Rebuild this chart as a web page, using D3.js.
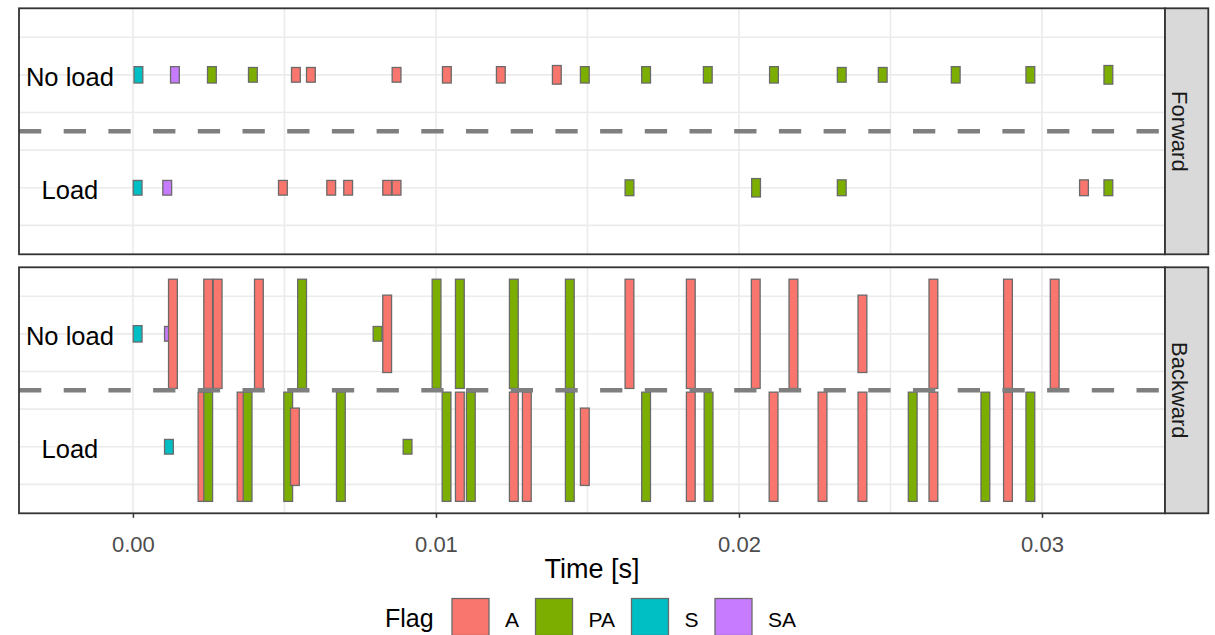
<!DOCTYPE html>
<html>
<head>
<meta charset="utf-8">
<script src="https://cdn.jsdelivr.net/npm/d3@7"></script>
<style>
  body { margin: 0; background: #fff; }
  text { font-family: "Liberation Sans", Arial, sans-serif; }
</style>
</head>
<body>
<svg id="chart"></svg>
<script>
/******************************************************
 * TCP packet timeline, faceted Forward / Backward
 * rows: No load / Load, bars coloured by TCP flag
 ******************************************************/

const width = 1215, height = 635;

/********* 1) Data **********/
const flags = ["A", "PA", "S", "SA"];
const flagColors = ["#F8766D", "#7CAE00", "#00BFC4", "#C77CFF"];
const directions = ["Forward", "Backward"];
const rowLabels = ["No load", "Load"];
const rowLevels = [1, 0];
const xTicks = [0, 0.01, 0.02, 0.03];
const xTickLabels = ["0.00", "0.01", "0.02", "0.03"];

// [time (s), flag, bar size (in row units)]
const fwdNoLoad = [
  [0.000181, "S", 0.145], [0.001386, "SA", 0.145], [0.002606, "PA", 0.145],
  [0.003959, "PA", 0.13], [0.005378, "A", 0.13], [0.005873, "A", 0.13],
  [0.008700, "A", 0.13], [0.010360, "A", 0.145], [0.012141, "A", 0.145],
  [0.013989, "A", 0.165], [0.014913, "PA", 0.145], [0.016935, "PA", 0.145],
  [0.018971, "PA", 0.145], [0.021155, "PA", 0.145], [0.023392, "PA", 0.13],
  [0.024744, "PA", 0.13], [0.027153, "PA", 0.145], [0.029617, "PA", 0.145],
  [0.032191, "PA", 0.165]
];
const fwdLoad = [
  [0.000155, "S", 0.13], [0.001132, "SA", 0.13], [0.004949, "A", 0.13],
  [0.006543, "A", 0.13], [0.007103, "A", 0.13], [0.008390, "A", 0.13],
  [0.008700, "A", 0.13], [0.016387, "PA", 0.14], [0.020564, "PA", 0.163],
  [0.023392, "PA", 0.14], [0.031386, "A", 0.14], [0.032191, "PA", 0.14]
];
const bwdNoLoad = [
  [0.000155, "S", 0.145], [0.001188, "SA", 0.13], [0.001320, "A", 0.967],
  [0.002484, "A", 0.967], [0.002795, "A", 0.967], [0.004157, "A", 0.967],
  [0.005582, "PA", 0.967], [0.008073, "PA", 0.13], [0.008390, "A", 0.685],
  [0.010020, "PA", 0.967], [0.010789, "PA", 0.967], [0.012570, "PA", 0.967],
  [0.014418, "PA", 0.967], [0.016387, "A", 0.967], [0.018410, "A", 0.967],
  [0.020554, "A", 0.967], [0.021798, "A", 0.967], [0.024075, "A", 0.685],
  [0.026417, "A", 0.967], [0.028878, "A", 0.967], [0.030419, "A", 0.967]
];
const bwdLoad = [
  [0.001188, "S", 0.13], [0.002296, "A", 0.967], [0.002484, "PA", 0.967],
  [0.003586, "A", 0.967], [0.003784, "PA", 0.967], [0.005124, "PA", 0.967],
  [0.005345, "A", 0.685], [0.006862, "PA", 0.967], [0.009063, "PA", 0.13],
  [0.010350, "PA", 0.967], [0.010789, "A", 0.967], [0.011151, "PA", 0.967],
  [0.012570, "A", 0.967], [0.012999, "A", 0.967], [0.014418, "PA", 0.967],
  [0.014913, "A", 0.685], [0.016935, "PA", 0.967], [0.018410, "A", 0.967],
  [0.018997, "PA", 0.967], [0.021142, "A", 0.967], [0.022758, "A", 0.967],
  [0.024075, "A", 0.967], [0.025734, "PA", 0.967], [0.026417, "A", 0.967],
  [0.028132, "PA", 0.967], [0.028878, "A", 0.967], [0.029617, "PA", 0.967]
];

const panelData = [
  [fwdNoLoad, fwdLoad],
  [bwdNoLoad, bwdLoad]
];

/********* 2) Layout + scales **********/
const panelLeft = 19, panelRight = 1165, stripRight = 1208.3;
const panelH = 246;
const panelTops = [8.3, 267.3];
const barDur = 0.00029;

const x = d3.scaleLinear().domain([-0.00376, 0.03406]).range([panelLeft, panelRight]);
const color = d3.scaleOrdinal().domain(flags).range(flagColors);

const svg = d3.select("#chart")
  .attr("width", width)
  .attr("height", height)
  .attr("viewBox", [0, 0, width, height]);

svg.append("rect").attr("width", width).attr("height", height).attr("fill", "#fff");

/********* 3) Panels **********/
directions.forEach((dir, pi) => {
  const top = panelTops[pi];
  const y = d3.scaleLinear().domain([-0.589, 1.589]).range([top + panelH, top]);
  const g = svg.append("g");

  // grid lines
  const xGrid = d3.range(-0.005, 0.0351, 0.005).filter(v => x(v) > panelLeft && x(v) < panelRight);
  const yGrid = d3.range(-1, 5).map(k => k / 3);
  g.selectAll("line.vgrid").data(xGrid).join("line")
    .attr("x1", d => x(d)).attr("x2", d => x(d))
    .attr("y1", top).attr("y2", top + panelH)
    .attr("stroke", "#ebebeb").attr("stroke-width", 1.6);
  g.selectAll("line.hgrid").data(yGrid).join("line")
    .attr("x1", panelLeft).attr("x2", panelRight)
    .attr("y1", d => y(d)).attr("y2", d => y(d))
    .attr("stroke", "#ebebeb").attr("stroke-width", 1.6);

  // bars, each row in time order (later ones on top)
  rowLevels.forEach((lvl, ri) => {
    const rows = panelData[pi][ri].slice().sort((a, b) => a[0] - b[0]);
    g.append("g").selectAll("rect").data(rows).join("rect")
      .attr("x", d => x(d[0] - barDur / 2))
      .attr("width", d => x(d[0] + barDur / 2) - x(d[0] - barDur / 2))
      .attr("y", d => y(lvl + d[2] / 2))
      .attr("height", d => y(lvl - d[2] / 2) - y(lvl + d[2] / 2))
      .attr("fill", d => color(d[1]))
      .attr("stroke", "#6a6a6a")
      .attr("stroke-width", 1.3);
  });

  // row labels inside the panel
  g.selectAll("text.rowLabel").data(rowLabels).join("text")
    .attr("x", x(-0.00208))
    .attr("y", (d, i) => y(rowLevels[i]) + 11.5)
    .attr("text-anchor", "middle")
    .attr("font-size", 25.5)
    .attr("fill", "#000")
    .text(d => d);

  // dashed separator between rows
  g.append("line")
    .attr("x1", panelLeft).attr("x2", panelRight)
    .attr("y1", y(0.5)).attr("y2", y(0.5))
    .attr("stroke", "#7f7f7f")
    .attr("stroke-width", 4.6)
    .attr("stroke-dasharray", "22.3 22.4");

  // panel border
  g.append("rect")
    .attr("x", panelLeft).attr("y", top)
    .attr("width", panelRight - panelLeft).attr("height", panelH)
    .attr("fill", "none").attr("stroke", "#333").attr("stroke-width", 1.8);

  // strip on the right
  g.append("rect")
    .attr("x", panelRight).attr("y", top)
    .attr("width", stripRight - panelRight).attr("height", panelH)
    .attr("fill", "#d9d9d9").attr("stroke", "#333").attr("stroke-width", 1.8);
  g.append("text")
    .attr("transform", `translate(1172,${top + panelH / 2}) rotate(90)`)
    .attr("text-anchor", "middle")
    .attr("font-size", 22)
    .attr("fill", "#1a1a1a")
    .text(dir);
});

/********* 4) X axis (bottom panel only) **********/
const axisY = panelTops[1] + panelH;
const axisG = svg.append("g").attr("transform", `translate(0,${axisY})`)
  .call(d3.axisBottom(x).tickValues(xTicks).tickFormat((d, i) => xTickLabels[i])
    .tickSize(4.5).tickPadding(19));
axisG.select(".domain").remove();
axisG.selectAll(".tick line").attr("stroke", "#333").attr("stroke-width", 1.5);
axisG.selectAll(".tick text")
  .attr("font-size", 22)
  .attr("font-family", "'Liberation Sans', Arial, sans-serif")
  .attr("fill", "#4d4d4d");

svg.append("text")
  .attr("x", (panelLeft + panelRight) / 2)
  .attr("y", 577.5)
  .attr("text-anchor", "middle")
  .attr("font-size", 27)
  .attr("fill", "#000")
  .text("Time [s]");

/********* 5) Legend **********/
const legG = svg.append("g");
legG.append("text")
  .attr("x", 385).attr("y", 626.5)
  .attr("font-size", 25)
  .attr("fill", "#000")
  .text("Flag");

let lx = 452;
flags.forEach((f, i) => {
  legG.append("rect")
    .attr("x", lx).attr("y", 598.5)
    .attr("width", 37).attr("height", 37)
    .attr("fill", color(f))
    .attr("stroke", "#6a6a6a").attr("stroke-width", 1.3);
  const t = legG.append("text")
    .attr("x", lx + 53).attr("y", 626.5)
    .attr("font-size", 21)
    .attr("fill", "#000")
    .text(f);
  lx = lx + 53 + t.node().getComputedTextLength() + 16.5;
});
</script>
</body>
</html>
